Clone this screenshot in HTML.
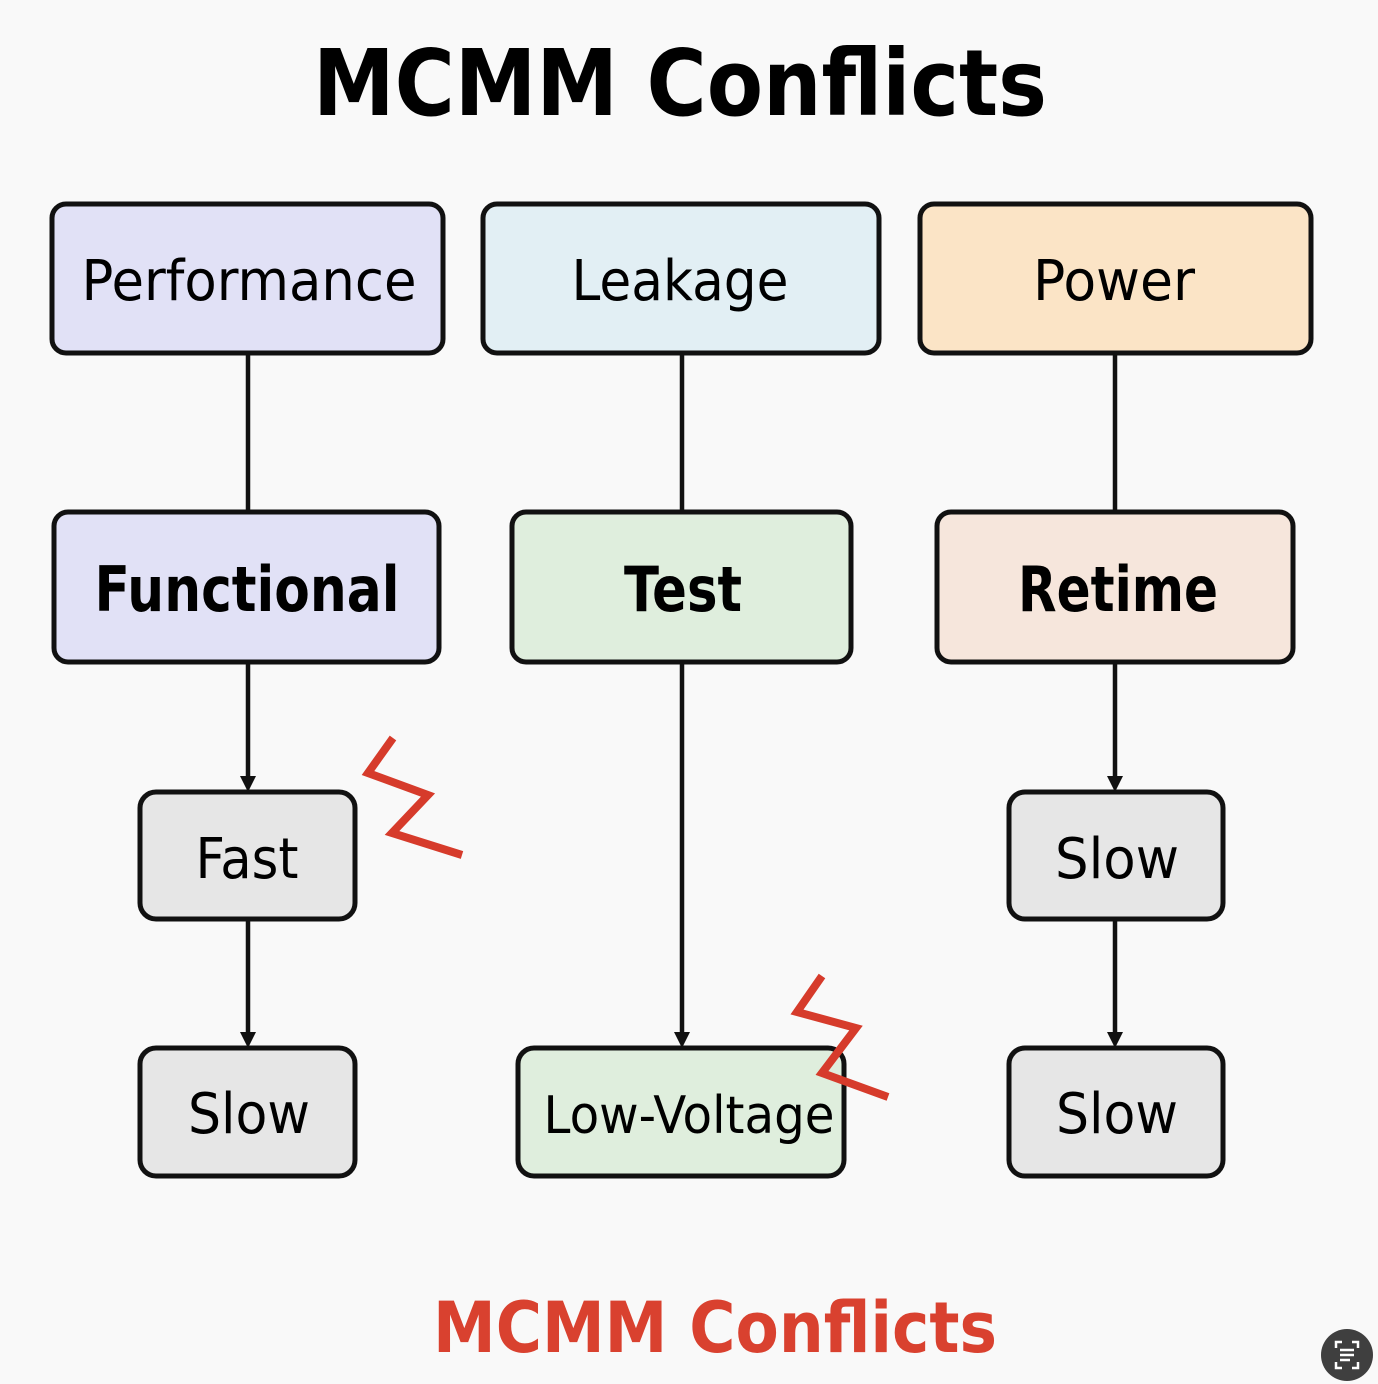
<!DOCTYPE html>
<html><head><meta charset="utf-8"><style>html,body{margin:0;padding:0;background:#f9f9f9}svg{display:block}</style></head>
<body>
<svg width="1378" height="1384" viewBox="0 0 1378 1384" xmlns="http://www.w3.org/2000/svg" font-family="'DejaVu Sans','Liberation Sans',sans-serif">
<rect width="1378" height="1384" fill="#f9f9f9"/>
<text x="680" y="115" font-size="92" font-weight="bold" text-anchor="middle" textLength="734" lengthAdjust="spacingAndGlyphs" fill="#000">MCMM Conflicts</text>
<g stroke="#111" stroke-width="4.5" fill="none">
<line x1="248" y1="353" x2="248" y2="512"/>
<line x1="682" y1="353" x2="682" y2="512"/>
<line x1="1115" y1="353" x2="1115" y2="512"/>
<line x1="248" y1="662" x2="248" y2="782"/>
<line x1="248" y1="919" x2="248" y2="1038"/>
<line x1="682" y1="662" x2="682" y2="1038"/>
<line x1="1115" y1="662" x2="1115" y2="782"/>
<line x1="1115" y1="919" x2="1115" y2="1038"/>
</g>
<g fill="#111">
<path d="M240 776 L256 776 L248 792 Z"/>
<path d="M240 1032 L256 1032 L248 1048 Z"/>
<path d="M674 1032 L690 1032 L682 1048 Z"/>
<path d="M1107 776 L1123 776 L1115 792 Z"/>
<path d="M1107 1032 L1123 1032 L1115 1048 Z"/>
</g>
<g stroke="#111" stroke-width="5">
<rect x="52" y="204" width="391" height="149" rx="14" fill="#e1e1f6"/>
<rect x="483" y="204" width="396" height="149" rx="14" fill="#e2eff4"/>
<rect x="920" y="204" width="391" height="149" rx="14" fill="#fbe4c6"/>
<rect x="54" y="512" width="385" height="150" rx="14" fill="#e1e1f6"/>
<rect x="512" y="512" width="339" height="150" rx="14" fill="#dfeedd"/>
<rect x="937" y="512" width="356" height="150" rx="14" fill="#f6e6dc"/>
<rect x="140" y="792" width="215" height="127" rx="16" fill="#e6e6e6"/>
<rect x="140" y="1048" width="215" height="128" rx="16" fill="#e6e6e6"/>
<rect x="518" y="1048" width="326" height="128" rx="16" fill="#dfeedd"/>
<rect x="1009" y="792" width="214" height="127" rx="16" fill="#e6e6e6"/>
<rect x="1009" y="1048" width="214" height="128" rx="16" fill="#e6e6e6"/>
</g>
<g fill="#000" text-anchor="middle">
<text x="249" y="300" font-size="56" textLength="335" lengthAdjust="spacingAndGlyphs">Performance</text>
<text x="680" y="300" font-size="56" textLength="217" lengthAdjust="spacingAndGlyphs">Leakage</text>
<text x="1114" y="300" font-size="56" textLength="162" lengthAdjust="spacingAndGlyphs">Power</text>
<text x="247" y="611" font-size="62" font-weight="bold" textLength="305" lengthAdjust="spacingAndGlyphs">Functional</text>
<text x="683" y="611" font-size="62" font-weight="bold" textLength="118" lengthAdjust="spacingAndGlyphs">Test</text>
<text x="1118" y="611" font-size="62" font-weight="bold" textLength="200" lengthAdjust="spacingAndGlyphs">Retime</text>
<text x="247" y="878" font-size="56" textLength="103" lengthAdjust="spacingAndGlyphs">Fast</text>
<text x="249" y="1133" font-size="56" textLength="122" lengthAdjust="spacingAndGlyphs">Slow</text>
<text x="689" y="1133" font-size="52" textLength="291" lengthAdjust="spacingAndGlyphs">Low-Voltage</text>
<text x="1117" y="878" font-size="56" textLength="124" lengthAdjust="spacingAndGlyphs">Slow</text>
<text x="1117" y="1133" font-size="56" textLength="122" lengthAdjust="spacingAndGlyphs">Slow</text>
</g>
<g stroke="#d63b2b" stroke-width="8" fill="none" stroke-linejoin="miter">
<polyline points="393,738 368,773 428,795 392,833 462,855"/>
<polyline points="822,976 797,1012 856,1028 822,1073 888,1097"/>
</g>
<text x="715" y="1352" font-size="70" font-weight="bold" text-anchor="middle" textLength="564" lengthAdjust="spacingAndGlyphs" fill="#d9412f">MCMM Conflicts</text>
<circle cx="1347" cy="1355" r="26" fill="#3f3f3f"/>
<g stroke="#fff" stroke-width="2.5" fill="none">
<path d="M1336 1348 v-6 h6 M1352 1342 h6 v6 M1358 1362 v6 h-6 M1342 1368 h-6 v-6"/>
<path d="M1340 1350 h14 M1340 1355 h14 M1340 1360 h10"/>
</g>
</svg>
</body></html>
